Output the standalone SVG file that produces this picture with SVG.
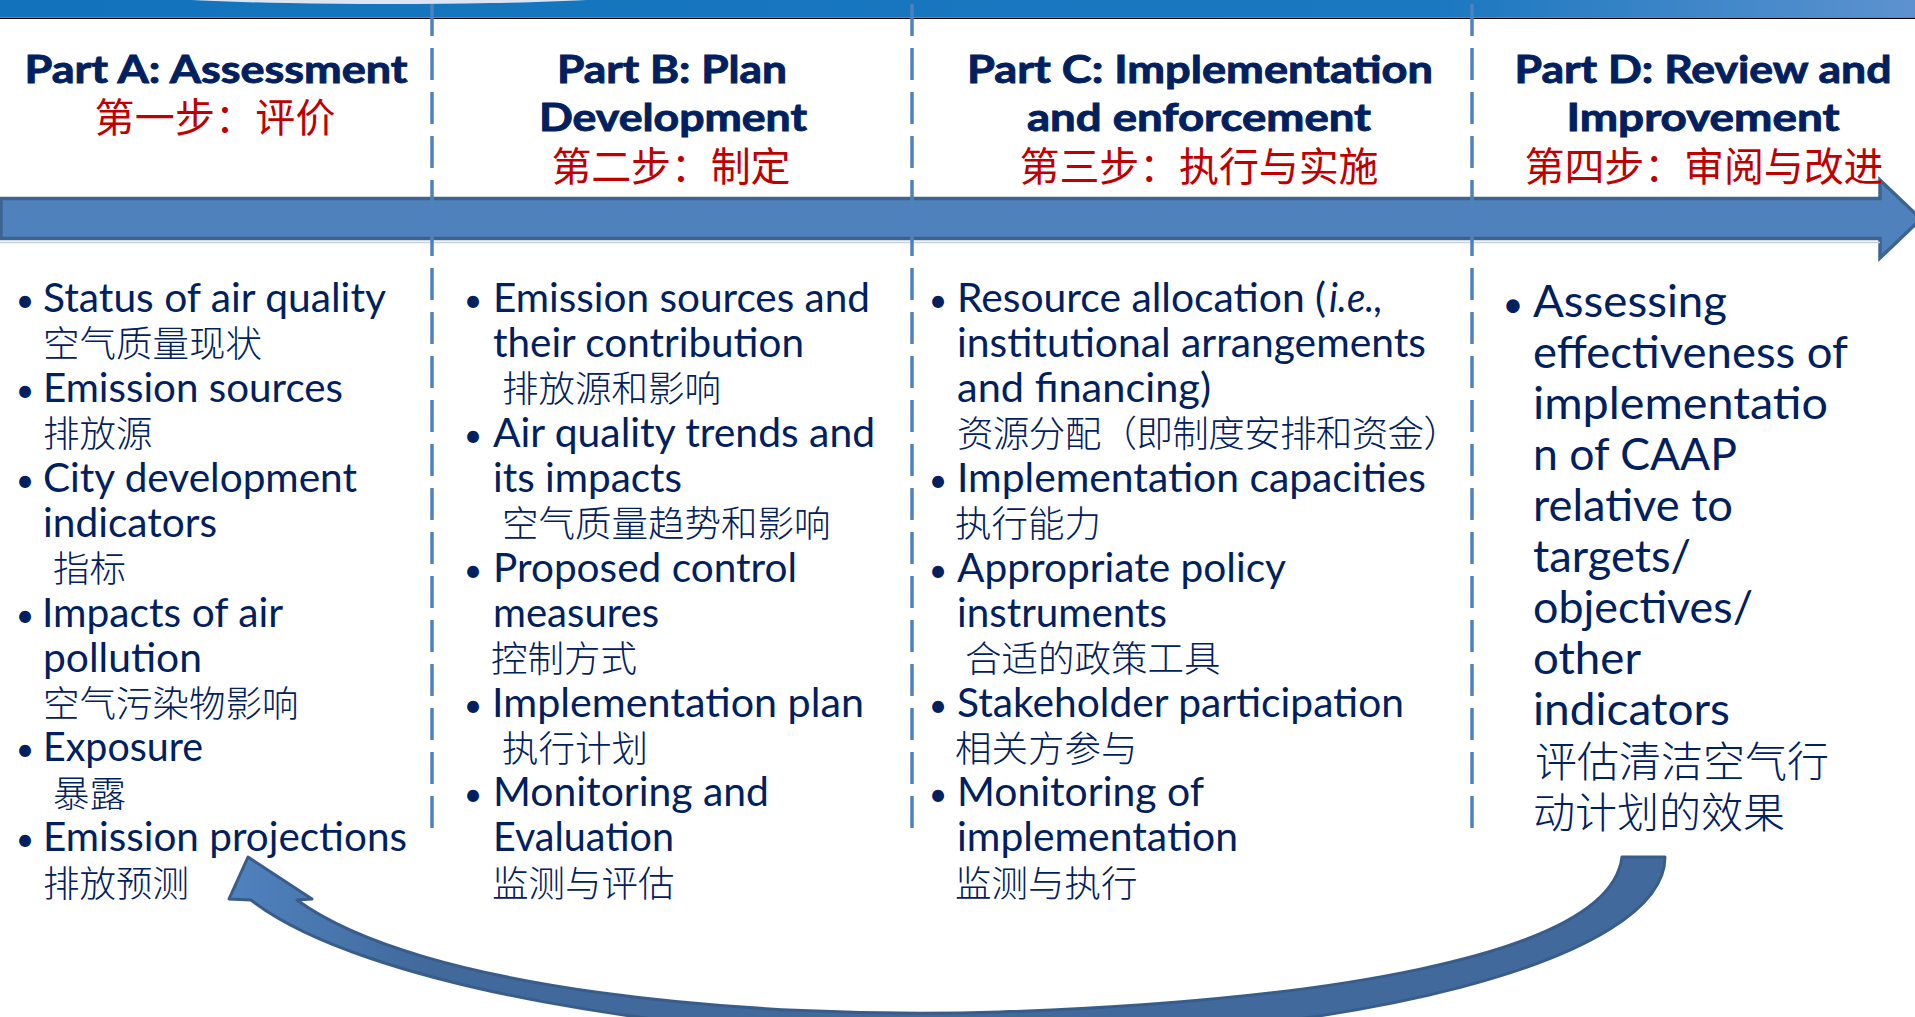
<svg xmlns="http://www.w3.org/2000/svg" width="1915" height="1017" viewBox="0 0 1915 1017">
<defs>
<linearGradient id="topg" x1="0" y1="0" x2="1" y2="0">
<stop offset="0" stop-color="#1273BC"/>
<stop offset="0.75" stop-color="#1A78C0"/>
<stop offset="1" stop-color="#5D92CF"/>
</linearGradient>
<linearGradient id="retg" gradientUnits="userSpaceOnUse" x1="240" y1="0" x2="430" y2="0">
<stop offset="0" stop-color="#4F81BD"/>
<stop offset="1" stop-color="#41699B"/>
</linearGradient>
<clipPath id="topclip"><rect x="0" y="0" width="1915" height="17"/></clipPath>
</defs>
<style>
.en{font-family:Lato,"Liberation Sans",sans-serif;fill:#002060}
.ttl{font-weight:700;font-size:38px;text-anchor:middle;stroke:#002060;stroke-width:0.9px}
.cnr{font-family:"Noto Sans CJK SC",sans-serif;fill:#C00000;font-size:40px;text-anchor:middle}
.b{font-size:40px}
.bd{font-size:44.5px}
.cn{font-family:"Noto Sans CJK SC",sans-serif;fill:#002060;font-size:36.5px;font-weight:300}
.cnd{font-size:42px}
.bul{font-family:Lato,"Liberation Sans",sans-serif;fill:#002060;font-size:32px;text-anchor:middle}
.buld{font-size:36px}
.div{stroke:#4F81BD;stroke-width:3.5;stroke-dasharray:32 12;fill:none}
</style>
<g id="top-band">
<rect x="0" y="0" width="1915" height="17" fill="url(#topg)"/>
<ellipse cx="389" cy="-8" rx="265" ry="12" fill="#DCE6F2" clip-path="url(#topclip)"/>
<line x1="0" y1="18.3" x2="1915" y2="18.3" stroke="#000" stroke-width="1.6"/>
</g>
<g id="connectors">
<path id="process-arrow" d="M1,198.5 H1880 V180 L1921,219 L1880,258 V238.5 H1 Z" fill="#4F81BD" stroke="#3C6491" stroke-width="3.5" stroke-linejoin="miter"/>
<line x1="0" y1="242.5" x2="1880" y2="242.5" stroke="#C8CFD8" stroke-width="1.5"/>
<line class="div" x1="432" y1="4" x2="432" y2="830"/>
<line class="div" x1="912" y1="4" x2="912" y2="830"/>
<line class="div" x1="1472" y1="4" x2="1472" y2="830"/>
<path id="return-arrow" d="M248,857 L312,899 L297,900 C420,990 750,1020 1000,1012 C1300,1002 1610,960 1622,857 L1665,857 C1665,960 1350,1040 980,1040 C680,1040 360,985 251,900 L229,899 Z" fill="url(#retg)" stroke="#385D8A" stroke-width="3" stroke-linejoin="round"/>
</g>
<g id="header-a">
<text class="en ttl" x="216" y="83" textLength="383" lengthAdjust="spacingAndGlyphs">Part A: Assessment</text>
<text class="cnr" x="215" y="132" textLength="241">第一步：评价</text>
</g>
<g id="header-b">
<text class="en ttl" x="672" y="83" textLength="230" lengthAdjust="spacingAndGlyphs">Part B: Plan</text>
<text class="en ttl" x="673" y="131" textLength="268" lengthAdjust="spacingAndGlyphs">Development</text>
<text class="cnr" x="671" y="181" textLength="239">第二步：制定</text>
</g>
<g id="header-c">
<text class="en ttl" x="1200" y="83" textLength="466" lengthAdjust="spacingAndGlyphs">Part C: Implementation</text>
<text class="en ttl" x="1199" y="131" textLength="344" lengthAdjust="spacingAndGlyphs">and enforcement</text>
<text class="cnr" x="1199" y="181" textLength="359">第三步：执行与实施</text>
</g>
<g id="header-d">
<text class="en ttl" x="1703" y="83" textLength="377" lengthAdjust="spacingAndGlyphs">Part D: Review and</text>
<text class="en ttl" x="1703" y="131" textLength="273" lengthAdjust="spacingAndGlyphs">Improvement</text>
<text class="cnr" x="1704" y="181" textLength="359">第四步：审阅与改进</text>
</g>
<g id="col-a">
<text class="bul" x="25" y="312">•</text>
<text class="en b" x="43" y="312" textLength="343" lengthAdjust="spacingAndGlyphs">Status of air quality</text>
<text class="cn" x="43" y="357">空气质量现状</text>
<text class="bul" x="25" y="402">•</text>
<text class="en b" x="43" y="402" textLength="300" lengthAdjust="spacingAndGlyphs">Emission sources</text>
<text class="cn" x="43" y="447">排放源</text>
<text class="bul" x="25" y="492">•</text>
<text class="en b" x="43" y="492" textLength="314" lengthAdjust="spacingAndGlyphs">City development</text>
<text class="en b" x="43" y="537" textLength="174" lengthAdjust="spacingAndGlyphs">indicators</text>
<text class="cn" x="53" y="582">指标</text>
<text class="bul" x="25" y="627">•</text>
<text class="en b" x="42" y="627" textLength="241" lengthAdjust="spacingAndGlyphs">Impacts of air</text>
<text class="en b" x="43" y="672" textLength="159" lengthAdjust="spacingAndGlyphs">pollution</text>
<text class="cn" x="43" y="717">空气污染物影响</text>
<text class="bul" x="25" y="761">•</text>
<text class="en b" x="43" y="761" textLength="160" lengthAdjust="spacingAndGlyphs">Exposure</text>
<text class="cn" x="53" y="807">暴露</text>
<text class="bul" x="25" y="851">•</text>
<text class="en b" x="43" y="851" textLength="364" lengthAdjust="spacingAndGlyphs">Emission projections</text>
<text class="cn" x="43" y="897">排放预测</text>
</g>
<g id="col-b">
<text class="bul" x="473" y="312">•</text>
<text class="en b" x="493" y="312" textLength="377" lengthAdjust="spacingAndGlyphs">Emission sources and</text>
<text class="en b" x="493" y="357" textLength="311" lengthAdjust="spacingAndGlyphs">their contribution</text>
<text class="cn" x="502" y="402">排放源和影响</text>
<text class="bul" x="473" y="447">•</text>
<text class="en b" x="493" y="447" textLength="382" lengthAdjust="spacingAndGlyphs">Air quality trends and</text>
<text class="en b" x="493" y="492" textLength="189" lengthAdjust="spacingAndGlyphs">its impacts</text>
<text class="cn" x="502" y="537">空气质量趋势和影响</text>
<text class="bul" x="473" y="582">•</text>
<text class="en b" x="493" y="582" textLength="304" lengthAdjust="spacingAndGlyphs">Proposed control</text>
<text class="en b" x="493" y="627" textLength="166" lengthAdjust="spacingAndGlyphs">measures</text>
<text class="cn" x="491" y="672">控制方式</text>
<text class="bul" x="473" y="717">•</text>
<text class="en b" x="492" y="717" textLength="372" lengthAdjust="spacingAndGlyphs">Implementation plan</text>
<text class="cn" x="502" y="762">执行计划</text>
<text class="bul" x="473" y="806">•</text>
<text class="en b" x="493" y="806" textLength="276" lengthAdjust="spacingAndGlyphs">Monitoring and</text>
<text class="en b" x="493" y="851" textLength="181" lengthAdjust="spacingAndGlyphs">Evaluation</text>
<text class="cn" x="492" y="897">监测与评估</text>
</g>
<g id="col-c">
<text class="bul" x="938" y="312">•</text>
<text class="en b" x="957" y="312" textLength="369" lengthAdjust="spacingAndGlyphs">Resource allocation (</text>
<text class="en b" x="1329" y="312" font-style="italic" textLength="54" lengthAdjust="spacingAndGlyphs">i.e.,</text>
<text class="en b" x="957" y="357" textLength="469" lengthAdjust="spacingAndGlyphs">institutional arrangements</text>
<text class="en b" x="957" y="402" textLength="254" lengthAdjust="spacingAndGlyphs">and financing)</text>
<text class="cn" x="957" y="447" textLength="503">资源分配（即制度安排和资金）</text>
<text class="bul" x="938" y="492">•</text>
<text class="en b" x="957" y="492" textLength="469" lengthAdjust="spacingAndGlyphs">Implementation capacities</text>
<text class="cn" x="955" y="537">执行能力</text>
<text class="bul" x="938" y="582">•</text>
<text class="en b" x="957" y="582" textLength="329" lengthAdjust="spacingAndGlyphs">Appropriate policy</text>
<text class="en b" x="957" y="627" textLength="210" lengthAdjust="spacingAndGlyphs">instruments</text>
<text class="cn" x="965" y="672">合适的政策工具</text>
<text class="bul" x="938" y="717">•</text>
<text class="en b" x="957" y="717" textLength="447" lengthAdjust="spacingAndGlyphs">Stakeholder participation</text>
<text class="cn" x="955" y="762">相关方参与</text>
<text class="bul" x="938" y="806">•</text>
<text class="en b" x="957" y="806" textLength="247" lengthAdjust="spacingAndGlyphs">Monitoring of</text>
<text class="en b" x="957" y="851" textLength="281" lengthAdjust="spacingAndGlyphs">implementation</text>
<text class="cn" x="955" y="897">监测与执行</text>
</g>
<g id="col-d">
<text class="bul buld" x="1513" y="317">•</text>
<text class="en bd" x="1533" y="317" textLength="194" lengthAdjust="spacingAndGlyphs">Assessing</text>
<text class="en bd" x="1533" y="368" textLength="315" lengthAdjust="spacingAndGlyphs">effectiveness of</text>
<text class="en bd" x="1533" y="419" textLength="295" lengthAdjust="spacingAndGlyphs">implementatio</text>
<text class="en bd" x="1533" y="470" textLength="204" lengthAdjust="spacingAndGlyphs">n of CAAP</text>
<text class="en bd" x="1533" y="521" textLength="200" lengthAdjust="spacingAndGlyphs">relative to</text>
<text class="en bd" x="1533" y="572" textLength="158" lengthAdjust="spacingAndGlyphs">targets/</text>
<text class="en bd" x="1533" y="623" textLength="220" lengthAdjust="spacingAndGlyphs">objectives/</text>
<text class="en bd" x="1533" y="674" textLength="108" lengthAdjust="spacingAndGlyphs">other</text>
<text class="en bd" x="1533" y="725" textLength="197" lengthAdjust="spacingAndGlyphs">indicators</text>
<text class="cn cnd" x="1535" y="777">评估清洁空气行</text>
<text class="cn cnd" x="1533" y="828">动计划的效果</text>
</g>
</svg>
